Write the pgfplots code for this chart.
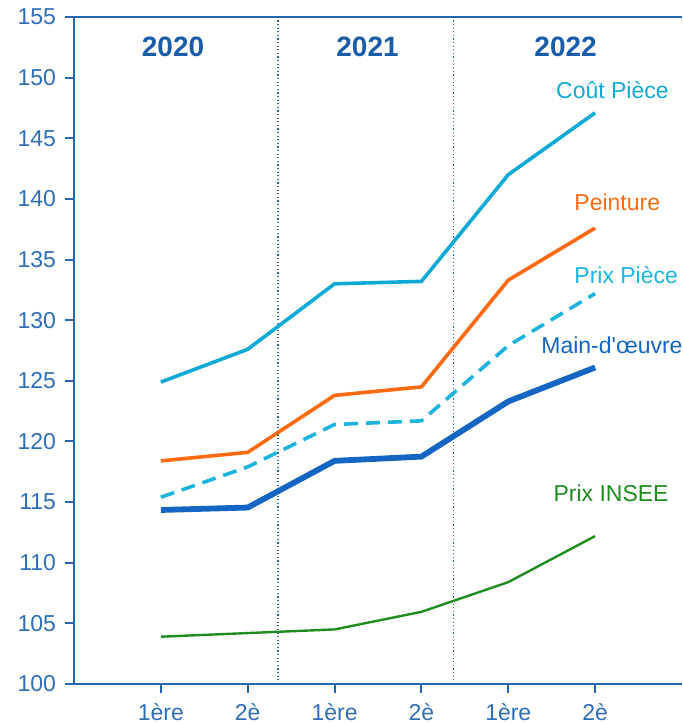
\documentclass[border=0pt]{standalone}
\usepackage{pgfplots}
\pgfplotsset{compat=1.18}
\usepackage{fontspec}
\setmainfont{Liberation Sans}
\definecolor{axblue}{HTML}{2467B1}
\definecolor{txtblue}{HTML}{2F6EB5}
\definecolor{yearblue}{HTML}{1A5CA8}
\definecolor{cyanl}{HTML}{0EAAD6}
\definecolor{cyand}{HTML}{1CB4DE}
\definecolor{orangel}{HTML}{FF6A10}
\definecolor{mainblue}{HTML}{1566C2}
\definecolor{greenl}{HTML}{1E8C1E}
\begin{document}
\begin{tikzpicture}
\begin{axis}[
  scale only axis,
  width=304pt, height=333.5pt,
  xmin=0, xmax=7, ymin=100, ymax=155,
  axis lines*=left,
  axis line style={axblue, line width=1.1pt},
  xtick={1,2,3,4,5,6},
  xticklabels={1ère,2è,1ère,2è,1ère,2è},
  ytick={100,105,...,155},
  tick style={axblue, line width=1pt},
  tick align=outside,
  major tick length=4.5pt,
  tick label style={font=\fontsize{11.5}{13}\selectfont, text=txtblue},
  /pgf/number format/assume math mode=true,
  yticklabel style={xshift=-1pt},
  xticklabel style={yshift=-1.5pt},
  clip=false,
]
\draw[axblue, line width=1.1pt] (rel axis cs:0,1) -- (rel axis cs:1,1);
\draw[axblue, line width=0.9pt, dash pattern=on 0.6pt off 1.2pt] (axis cs:2.35,100) -- (axis cs:2.35,155);
\draw[axblue, line width=0.9pt, dash pattern=on 0.6pt off 1.2pt] (axis cs:4.37,100) -- (axis cs:4.37,155);

\addplot[cyanl, line width=1.8pt] coordinates {(1,124.9)(2,127.6)(3,133.0)(4,133.2)(5,142.0)(6,147.1)};
\addplot[orangel, line width=1.8pt] coordinates {(1,118.4)(2,119.1)(3,123.8)(4,124.5)(5,133.3)(6,137.6)};
\addplot[cyand, line width=1.8pt, dash pattern=on 7pt off 4pt] coordinates {(1,115.4)(2,117.9)(3,121.4)(4,121.7)(5,127.9)(6,132.2)};
\addplot[mainblue, line width=2.9pt] coordinates {(1,114.35)(2,114.55)(3,118.4)(4,118.75)(5,123.3)(6,126.1)};
\addplot[greenl, line width=1.2pt] coordinates {(1,103.9)(2,104.2)(3,104.5)(4,105.95)(5,108.4)(6,112.2)};

\node[anchor=west, text=cyanl, font=\fontsize{11.5}{13}\selectfont] at (axis cs:5.47,149.0) {Coût Pièce};
\node[anchor=west, text=orangel, font=\fontsize{11.5}{13}\selectfont] at (axis cs:5.68,139.7) {Peinture};
\node[anchor=west, text=cyand, font=\fontsize{11.5}{13}\selectfont] at (axis cs:5.68,133.7) {Prix Pièce};
\node[anchor=west, text=mainblue, font=\fontsize{11.5}{13}\selectfont] at (axis cs:5.30,127.95) {Main-d\textquotesingle œuvre};
\node[anchor=west, text=greenl, font=\fontsize{11.5}{13}\selectfont] at (axis cs:5.44,115.7) {Prix INSEE};

\node[text=yearblue, font=\fontsize{14}{16}\bfseries\selectfont] at (axis cs:1.14,152.5) {2020};
\node[text=yearblue, font=\fontsize{14}{16}\bfseries\selectfont] at (axis cs:3.38,152.5) {2021};
\node[text=yearblue, font=\fontsize{14}{16}\bfseries\selectfont] at (axis cs:5.66,152.5) {2022};
\end{axis}
\pgfresetboundingbox
\useasboundingbox (-37pt,-20pt) rectangle (304pt,342pt);
\end{tikzpicture}
\end{document}
